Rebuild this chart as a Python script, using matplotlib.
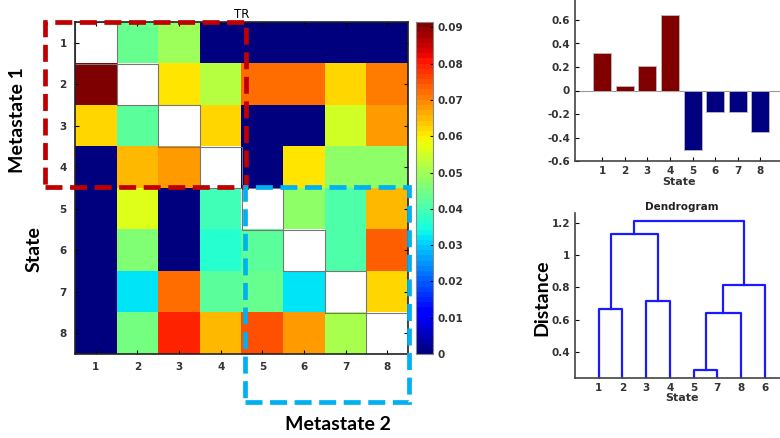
import numpy as np
import matplotlib
matplotlib.use("Agg")
import matplotlib.pyplot as plt
from matplotlib.patches import Rectangle

# transition-rate matrix (diagonal left empty)
nan = np.nan
states = [1, 2, 3, 4, 5, 6, 7, 8]
tr_row1 = [nan, 0.043, 0.049, 0.0, 0.0, 0.0, 0.0, 0.0]
tr_row2 = [0.0915, nan, 0.0605, 0.0525, 0.072, 0.072, 0.0625, 0.071]
tr_row3 = [0.0625, 0.042, nan, 0.0625, 0.0, 0.0, 0.0555, 0.0686]
tr_row4 = [0.0, 0.0655, 0.0685, nan, 0.0, 0.0605, 0.0486, 0.048]
tr_row5 = [0.0, 0.0565, 0.0, 0.0387, nan, 0.0486, 0.0414, 0.0655]
tr_row6 = [0.0, 0.047, 0.0, 0.037, 0.042, nan, 0.0414, 0.073]
tr_row7 = [0.0, 0.0327, 0.072, 0.042, 0.043, 0.032, nan, 0.0625]
tr_row8 = [0.0, 0.0444, 0.0787, 0.0655, 0.0757, 0.0685, 0.051, nan]

cbar_ticks = [0, 0.01, 0.02, 0.03, 0.04, 0.05, 0.06, 0.07, 0.08, 0.09]

# eigenvector components per state
bar_values = [0.32, 0.037, 0.207, 0.643, -0.508, -0.182, -0.185, -0.349]
bar_yticks = [-0.6, -0.4, -0.2, 0, 0.2, 0.4, 0.6, 0.8]
bar_ylabels = ["-0.6", "-0.4", "-0.2", "0", "0.2", "0.4", "0.6", ""]

# dendrogram: clusters 1..8 are states, 9.. are merges in order
leaf_order = [1, 2, 3, 4, 5, 7, 8, 6]
link_left = [1, 3, 5, 11, 12, 9, 14]
link_right = [2, 4, 7, 8, 6, 10, 13]
link_height = [0.667, 0.714, 0.285, 0.642, 0.814, 1.132, 1.212]

tick_kw = dict(fontsize=7.5, fontweight="bold", color="#333333")
big_font = dict(family=["Lato", "DejaVu Sans"], fontsize=14, fontweight="bold")

fig = plt.figure(figsize=(7.8, 4.38), dpi=100)
W, H = 780.0, 438.0


def frac_box(x0, y0, x1, y1):
    # pixel box (top-left origin) -> figure fraction rect
    return [x0 / W, 1 - y1 / H, (x1 - x0) / W, (y1 - y0) / H]


# ---- heatmap
tr = np.array([tr_row1, tr_row2, tr_row3, tr_row4,
               tr_row5, tr_row6, tr_row7, tr_row8])
cmap = plt.get_cmap("jet", 64).copy()
cmap.set_bad("white")
ax = fig.add_axes(frac_box(75, 22, 408, 354))
im = ax.imshow(np.ma.masked_invalid(tr), cmap=cmap, vmin=0, vmax=0.0915,
               aspect="auto", extent=(0.5, 8.5, 8.5, 0.5), interpolation="nearest")
for i in range(len(states)):
    ax.add_patch(Rectangle((i + 0.5, i + 0.5), 1, 1, fill=False,
                           edgecolor="#777777", lw=0.8))
ax.set_xticks(states)
ax.set_yticks(states)
ax.set_xticklabels(states, **tick_kw)
ax.set_yticklabels(states, **tick_kw)
ax.tick_params(direction="in", length=3, top=True, right=True, pad=6)
for s in ax.spines.values():
    s.set_color("#222222")
    s.set_linewidth(1.2)
ax.set_title("TR", fontsize=8.5, pad=3)

cax = fig.add_axes(frac_box(416, 22, 433, 354))
cb = fig.colorbar(im, cax=cax, ticks=cbar_ticks)
cb.ax.set_yticklabels([f"{t:g}" for t in cbar_ticks], **tick_kw)
cb.ax.tick_params(direction="in", length=2, pad=3)
cb.outline.set_edgecolor("#888888")

# dashed metastate boxes
red_box = Rectangle((45 / W, 1 - 187 / H), (246 - 45) / W, (187 - 22) / H,
                    transform=fig.transFigure, fill=False, edgecolor="#c00000",
                    lw=3.4, linestyle=(0, (3.6, 1.6)), clip_on=False, zorder=10)
blue_box = Rectangle((245 / W, 1 - 402 / H), (409 - 245) / W, (402 - 187) / H,
                     transform=fig.transFigure, fill=False, edgecolor="#00b0f0",
                     lw=3.4, linestyle=(0, (3.6, 1.6)), clip_on=False, zorder=10)
fig.add_artist(red_box)
fig.add_artist(blue_box)

fig.text(18 / W, 1 - 120 / H, "Metastate 1", rotation=90, ha="center", va="center", **big_font)
fig.text(34 / W, 1 - 249 / H, "State", rotation=90, ha="center", va="center", **big_font)
fig.text(338 / W, 1 - 425 / H, "Metastate 2", ha="center", va="center", **big_font)
fig.text(542 / W, 1 - 298 / H, "Distance", rotation=90, ha="center", va="center", **big_font)

# ---- bar chart
axb = fig.add_axes(frac_box(575, -3.5, 783, 161))
colors = ["#800000" if v > 0 else "#000080" for v in bar_values]
axb.bar(states, bar_values, width=0.8, color=colors, edgecolor="#bbbbbb", lw=0.6, zorder=2)
axb.axhline(0, color="#999999", lw=0.8, zorder=1)
axb.set_xlim(-0.2, 9.0)
axb.set_ylim(-0.6, 0.8)
axb.set_yticks(bar_yticks)
axb.set_yticklabels(bar_ylabels, **tick_kw)
axb.set_xticks(states)
axb.set_xticklabels(states, **tick_kw)
axb.set_xlabel("State", fontsize=8, fontweight="bold", color="#333333", labelpad=1)
axb.tick_params(direction="in", length=3)
for side in ["top", "right"]:
    axb.spines[side].set_visible(False)
for side in ["left", "bottom"]:
    axb.spines[side].set_color("#444444")
    axb.spines[side].set_linewidth(1.2)

# ---- dendrogram
axd = fig.add_axes(frac_box(575, 212.7, 788.6, 377.7))
pos = {leaf: i + 1 for i, leaf in enumerate(leaf_order)}
hgt = {leaf: 0.0 for leaf in leaf_order}
for k, (a, b, h) in enumerate(zip(link_left, link_right, link_height)):
    xa, xb = pos[a], pos[b]
    axd.plot([xa, xa, xb, xb], [hgt[a], h, h, hgt[b]], color="#1a1aff", lw=1.6)
    new_id = len(leaf_order) + 1 + k
    pos[new_id] = (xa + xb) / 2
    hgt[new_id] = h
axd.set_xlim(0, 9)
axd.set_ylim(0.24, 1.262)
axd.set_xticks(range(1, len(leaf_order) + 1))
axd.set_xticklabels(leaf_order, **tick_kw)
axd.set_yticks([0.4, 0.6, 0.8, 1.0, 1.2])
axd.set_yticklabels(["0.4", "0.6", "0.8", "1", "1.2"], **tick_kw)
axd.set_xlabel("State", fontsize=8, fontweight="bold", color="#333333", labelpad=0)
axd.set_title("Dendrogram", fontsize=7.5, fontweight="bold", color="#222222", pad=2)
axd.tick_params(direction="in", length=3)
for side in ["top", "right"]:
    axd.spines[side].set_visible(False)
for side in ["left", "bottom"]:
    axd.spines[side].set_color("#444444")
    axd.spines[side].set_linewidth(1.2)

fig.savefig("out.png", dpi=100)
